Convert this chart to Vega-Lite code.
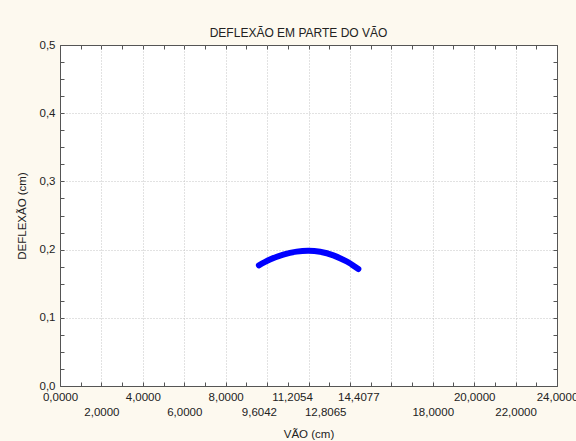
{
  "$schema": "https://vega.github.io/schema/vega-lite/v6.json",
  "width": 497,
  "height": 341,
  "autosize": "none",
  "padding": {"left": 60, "top": 45, "right": 19, "bottom": 55},
  "background": "#FDF9EF",
  "config": {
    "view": {"fill": "white", "stroke": "#555555", "strokeWidth": 1},
    "font": "Liberation Sans",
    "axis": {
      "labelFont": "Liberation Sans",
      "labelFontSize": 11.5,
      "labelColor": "#222222",
      "titleFont": "Liberation Sans",
      "titleFontSize": 11.5,
      "titleFontWeight": "normal",
      "titleColor": "#222222",
      "tickColor": "#555555",
      "gridColor": "#c4c4c4",
      "gridDash": [1, 2],
      "labelFlush": false,
      "labelOverlap": false,
      "labelBound": false
    }
  },
  "title": {
    "text": "DEFLEXÃO EM PARTE DO VÃO",
    "font": "Liberation Sans",
    "fontSize": 12,
    "fontWeight": "normal",
    "color": "#222222",
    "anchor": "middle",
    "frame": "group",
    "offset": -1,
    "dx": -10
  },
  "data": {
    "values": [
      {"vao": 9.6042, "deflexao": 0.177},
      {"vao": 10.14, "deflexao": 0.1854},
      {"vao": 10.78, "deflexao": 0.1927},
      {"vao": 11.43, "deflexao": 0.197},
      {"vao": 12.0, "deflexao": 0.1982},
      {"vao": 12.56, "deflexao": 0.1968},
      {"vao": 13.2, "deflexao": 0.1916},
      {"vao": 13.84, "deflexao": 0.1826},
      {"vao": 14.1, "deflexao": 0.1779},
      {"vao": 14.4077, "deflexao": 0.1715}
    ]
  },
  "resolve": {
    "scale": {"x": "shared", "y": "shared"},
    "axis": {"x": "independent", "y": "independent"}
  },
  "layer": [
    {
      "mark": {"type": "line", "color": "#0000FF", "strokeWidth": 6, "strokeCap": "round", "strokeJoin": "round", "interpolate": "natural"},
      "encoding": {
        "x": {
          "field": "vao", "type": "quantitative",
          "scale": {"domain": [0, 24], "nice": false, "zero": false},
          "axis": {
            "orient": "bottom", "values": [0, 4, 8, 11.2054, 14.4077, 20, 24],
            "labelExpr": "replace(format(datum.value, '.4f'), '.', ',')",
            "ticks": false, "domain": false, "grid": false, "labelPadding": 5, "title": null
          }
        },
        "y": {
          "field": "deflexao", "type": "quantitative",
          "scale": {"domain": [0, 0.5], "nice": false, "zero": false},
          "axis": {
            "orient": "left", "values": [0, 0.1, 0.2, 0.3, 0.4, 0.5],
            "labelExpr": "replace(format(datum.value, '.1f'), '.', ',')",
            "ticks": false, "domain": false, "grid": false, "labelPadding": 5,
            "title": "DEFLEXÃO (cm)", "titlePadding": 12
          }
        }
      }
    },
    {
      "mark": {"type": "point", "opacity": 0},
      "encoding": {
        "x": {
          "field": "vao", "type": "quantitative",
          "axis": {
            "orient": "bottom", "values": [2, 6, 9.6042, 12.8065, 18, 22],
            "labelExpr": "replace(format(datum.value, '.4f'), '.', ',')",
            "ticks": false, "domain": false, "grid": false, "labelPadding": 20,
            "title": "VÃO (cm)", "titlePadding": 11
          }
        },
        "y": {
          "field": "deflexao", "type": "quantitative",
          "axis": {
            "orient": "left", "values": [0.1, 0.2, 0.3, 0.4],
            "labels": false, "ticks": false, "domain": false, "grid": true, "title": null
          }
        }
      }
    },
    {
      "mark": {"type": "point", "opacity": 0},
      "encoding": {
        "x": {
          "field": "vao", "type": "quantitative",
          "axis": {
            "orient": "bottom", "values": [2, 4, 6, 8, 10, 12, 14, 16, 18, 20, 22],
            "labels": false, "ticks": false, "domain": false, "grid": true, "title": null
          }
        },
        "y": {
          "field": "deflexao", "type": "quantitative",
          "axis": {
            "orient": "left",
            "values": [0, 0.025, 0.05, 0.075, 0.1, 0.125, 0.15, 0.175, 0.2, 0.225, 0.25, 0.275, 0.3, 0.325, 0.35, 0.375, 0.4, 0.425, 0.45, 0.475, 0.5],
            "labels": false, "ticks": true, "tickSize": -4, "domain": false, "grid": false, "title": null
          }
        }
      }
    },
    {
      "mark": {"type": "point", "opacity": 0},
      "encoding": {
        "x": {
          "field": "vao", "type": "quantitative",
          "axis": {
            "orient": "bottom",
            "values": [0, 1, 2, 3, 4, 5, 6, 7, 8, 9, 10, 11, 12, 13, 14, 15, 16, 17, 18, 19, 20, 21, 22, 23, 24],
            "labels": false, "ticks": true, "tickSize": -4, "domain": false, "grid": false, "title": null
          }
        },
        "y": {
          "field": "deflexao", "type": "quantitative",
          "axis": {
            "orient": "right",
            "values": [0, 0.025, 0.05, 0.075, 0.1, 0.125, 0.15, 0.175, 0.2, 0.225, 0.25, 0.275, 0.3, 0.325, 0.35, 0.375, 0.4, 0.425, 0.45, 0.475, 0.5],
            "labels": false, "ticks": true, "tickSize": -4, "domain": false, "grid": false, "title": null
          }
        }
      }
    },
    {
      "mark": {"type": "point", "opacity": 0},
      "encoding": {
        "x": {
          "field": "vao", "type": "quantitative",
          "axis": {
            "orient": "top",
            "values": [0, 1, 2, 3, 4, 5, 6, 7, 8, 9, 10, 11, 12, 13, 14, 15, 16, 17, 18, 19, 20, 21, 22, 23, 24],
            "labels": false, "ticks": true, "tickSize": -4, "domain": false, "grid": false, "title": null
          }
        },
        "y": {
          "field": "deflexao", "type": "quantitative",
          "axis": null
        }
      }
    }
  ]
}
